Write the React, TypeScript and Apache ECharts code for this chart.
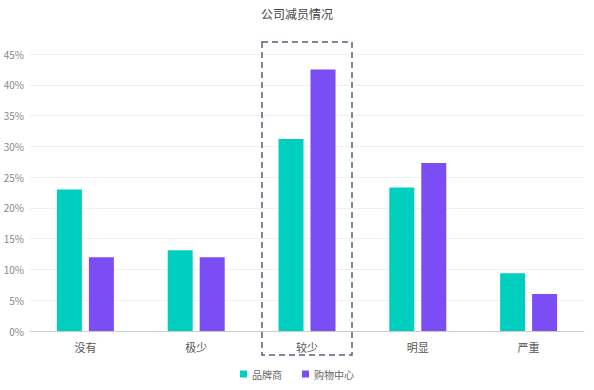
import React, { useEffect, useRef } from "react";
import * as echarts from "echarts";

const categories = ["没有", "极少", "较少", "明显", "严重"];
const brandValues = [23, 13.1, 31.2, 23.3, 9.4];
const mallValues = [12, 12, 42.5, 27.3, 6];
const seriesNames = ["品牌商", "购物中心"];
const highlightCategory = "较少";
const titleText = "公司减员情况";

export default function App() {
  const ref = useRef<HTMLDivElement>(null);
  useEffect(() => {
    if (!ref.current) return;
    const chart = echarts.init(ref.current, undefined, { renderer: "svg" });
    const font = "'Noto Sans CJK SC', 'Noto Sans', sans-serif";
    chart.setOption({
      animation: false,
      backgroundColor: "#ffffff",
      textStyle: { fontFamily: font },
      title: {
        text: titleText,
        left: "center",
        top: 2,
        textStyle: { fontSize: 12, fontWeight: "normal", color: "#444", fontFamily: font },
      },
      legend: {
        bottom: 6,
        left: "center",
        icon: "rect",
        itemWidth: 7,
        itemHeight: 7,
        itemGap: 20,
        textStyle: { fontSize: 10, color: "#666", fontFamily: font },
        data: seriesNames,
      },
      grid: { left: 30, right: 10, top: 54, bottom: 59 },
      xAxis: {
        type: "category",
        data: categories,
        axisTick: { show: false },
        axisLine: { lineStyle: { color: "#cccccc" } },
        axisLabel: { fontSize: 11, color: "#555", margin: 10 },
      },
      yAxis: {
        type: "value",
        min: 0,
        max: 45,
        interval: 5,
        axisLabel: { formatter: "{value}%", fontSize: 10, color: "#888", margin: 6 },
        splitLine: { lineStyle: { color: "#f0f0f0" } },
        axisLine: { show: false },
        axisTick: { show: false },
      },
      series: [
        {
          name: seriesNames[0],
          type: "bar",
          data: brandValues,
          barWidth: 25,
          barGap: "28%",
          itemStyle: { color: "#00CFC0" },
        },
        {
          name: seriesNames[1],
          type: "bar",
          data: mallValues,
          barWidth: 25,
          itemStyle: { color: "#7A4DF5" },
        },
      ],
    });
    const cx = chart.convertToPixel({ xAxisIndex: 0 }, highlightCategory) as number;
    const boxW = 90;
    chart.setOption({
      graphic: [
        {
          type: "rect",
          shape: { x: cx - boxW / 2, y: 42, width: boxW, height: 313 },
          style: { fill: "none", stroke: "#5c5c78", lineWidth: 1.5, lineDash: [6, 4] },
          silent: true,
        },
      ],
    });
    return () => chart.dispose();
  }, []);
  return (
    <div
      ref={ref}
      style={{ position: "fixed", left: 0, top: 0, width: 594, height: 390 }}
    />
  );
}
